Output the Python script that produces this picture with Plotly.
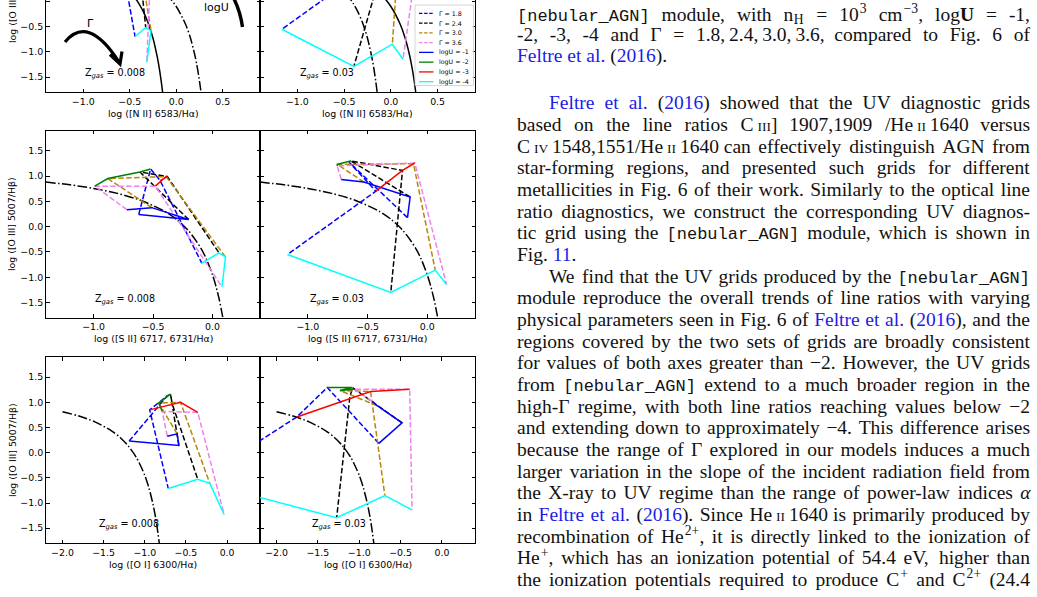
import re
import plotly.graph_objects as go

W, H = 1037, 597

# ------------------------------------------------------------------ DATA
GAMMA_LABELS = ["Γ = 1.8", "Γ = 2.4", "Γ = 3.0", "Γ = 3.6"]
LOGU_LABELS = ["logU = -1", "logU = -2", "logU = -3", "logU = -4"]
GAMMA_COLORS = ["#0000ff", "#000000", "#b8860b", "#ee82ee"]
LOGU_COLORS = ["#0000ff", "#008000", "#ff0000", "#00ffff"]

# model grids: rows = Gamma (1.8, 2.4, 3.0, 3.6), columns = logU (-1, -2, -3, -4)
nii_z008_x = [[-0.60, -0.50, -0.55, -0.443], [-0.50, -0.45, -0.38, -0.328],
              [-0.55, -0.60, -0.36, -0.271], [-0.65, -0.70, -0.28, -0.317]]
nii_z008_y = [[1.2, 1.5, 0.4, -0.70], [1.1, 1.4, 0.4, -0.525],
              [1.0, 1.3, 0.4, -0.59], [1.0, 1.2, 0.4, -1.207]]
nii_z03_x = [[-0.30, -0.40, -0.44, -1.167], [0.0, -0.30, -0.133, -0.396],
             [0.0, -0.40, 0.062, 0.016], [-0.10, -0.45, 0.25, 0.13]]
nii_z03_y = [[1.2, 1.5, 0.4, -0.557], [1.0, 1.4, 0.4, -1.29],
             [1.1, 1.3, 0.4, -0.852], [1.2, 1.2, 0.4, -1.148]]
sii_z008_x = [[-0.62, -0.52, -0.44, -0.09], [-0.20, -0.61, -0.38, 0.056],
              [-0.51, -0.88, -0.39, 0.11], [-0.72, -0.99, -0.48, 0.08]]
sii_z008_y = [[0.24, 1.14, 0.91, -0.72], [0.14, 1.08, 0.99, -0.52],
              [0.375, 0.95, 0.99, -0.60], [0.335, 0.80, 0.80, -1.19]]
sii_z03_x = [[-0.165, -0.655, -0.43, -1.17], [-0.143, -0.64, -0.207, -0.305],
             [-0.53, -0.753, -0.115, 0.067], [-0.72, -0.753, -0.104, 0.162]]
sii_z03_y = [[0.178, 1.276, 0.70, -0.55], [0.586, 1.30, 1.11, -1.30],
             [0.88, 1.23, 1.243, -0.86], [0.93, 1.20, 1.257, -1.145]]
oi_z008_x = [[-1.19, -0.727, -0.94, -0.715], [-0.586, -0.687, -0.667, -0.356],
             [-0.606, -0.83, -0.566, -0.21], [-0.727, -0.788, -0.356, -0.036]]
oi_z008_y = [[0.23, 1.13, 0.85, -0.71], [0.144, 1.16, 0.97, -0.53],
             [0.374, 0.985, 1.0, -0.61], [0.328, 0.82, 0.80, -1.228]]
oi_z03_x = [[-0.763, -1.386, -1.755, -2.96], [-0.482, -1.084, -1.116, -1.273],
            [-0.783, -1.233, -0.863, -0.69], [-0.843, -1.064, -0.39, -0.361]]
oi_z03_y = [[0.184, 1.294, 0.709, -0.56], [0.591, 1.294, 1.07, -1.293],
            [0.932, 1.234, 1.215, -0.854], [1.018, 1.261, 1.261, -1.136]]

# demarcation curves
ka03_nii_x = [-1.4, -1.2, -1.0, -0.8, -0.6, -0.5, -0.45, -0.4, -0.35, -0.3, -0.25, -0.2, -0.18, -0.16, -0.145]
ka03_nii_y = [0.879, 0.812, 0.719, 0.582, 0.362, 0.191, 0.08, -0.056, -0.225, -0.443, -0.733, -1.14, -1.352, -1.605, -1.83]
ke01_nii_x = [-1.4, -1.0, -0.6, -0.4, -0.2, -0.1, 0.0, 0.1, 0.15, 0.2, 0.22, 0.24, 0.26, 0.27]
ke01_nii_y = [0.864, 0.775, 0.620, 0.489, 0.280, 0.120, -0.108, -0.459, -0.716, -1.069, -1.25, -1.462, -1.715, -1.86]
ke01_sii_x = [-1.4, -1.2, -1.0, -0.8, -0.6, -0.4, -0.3, -0.2, -0.1, -0.05, 0.0, 0.03, 0.06, 0.09]
ke01_sii_y = [0.881, 0.826, 0.755, 0.657, 0.517, 0.300, 0.139, -0.085, -0.414, -0.646, -0.95, -1.183, -1.469, -1.83]
ke01_oi_x = [-2.0, -1.8, -1.6, -1.4, -1.3, -1.2, -1.1, -1.0, -0.95, -0.9, -0.87, -0.85, -0.82]
ke01_oi_y = [0.812, 0.727, 0.607, 0.429, 0.302, 0.133, -0.101, -0.450, -0.698, -1.025, -1.277, -1.478, -1.844]

X_TITLES = ["log ([N II] 6583/Hα)", "log ([S II] 6717, 6731/Hα)", "log ([O I] 6300/Hα)"]
Y_TITLE = "log ([O III] 5007/Hβ)"
Z_LABELS = ["0.008", "0.03"]

# ------------------------------------------------------------------ LAYOUT
def fx(px):
    return px / W


def fy(py):
    return 1 - py / H


COL_PX = [(46, 260), (260, 475)]
ROW_PX = [(0, 92.3), (130.5, 317.7), (357, 543.3)]
ROW_YRANGE = [[-1.8, 0.02], [-1.8, 1.9], [-1.8, 1.9]]
ROW_XRANGE = [[-1.4, 0.9], [-1.4, 0.4], [-2.2, 0.4]]

PANELS = [
    (0, 0, nii_z008_x, nii_z008_y, [(ka03_nii_x, ka03_nii_y, "solid"), (ke01_nii_x, ke01_nii_y, "dashdot")]),
    (0, 1, nii_z03_x, nii_z03_y, [(ka03_nii_x, ka03_nii_y, "dashdot"), (ke01_nii_x, ke01_nii_y, "solid")]),
    (1, 0, sii_z008_x, sii_z008_y, [(ke01_sii_x, ke01_sii_y, "dashdot")]),
    (1, 1, sii_z03_x, sii_z03_y, [(ke01_sii_x, ke01_sii_y, "dashdot")]),
    (2, 0, oi_z008_x, oi_z008_y, [(ke01_oi_x, ke01_oi_y, "dashdot")]),
    (2, 1, oi_z03_x, oi_z03_y, [(ke01_oi_x, ke01_oi_y, "dashdot")]),
]

DASH = "5.5px,2.4px"
DASHDOT = "9.6px,2.4px,1.5px,2.4px"
LW = 1.5
AX_FONT = dict(family="DejaVu Sans", size=9.4, color="#000000")

fig = go.Figure()
layout = dict(width=W, height=H, margin=dict(l=0, r=0, t=0, b=0), autosize=False,
              paper_bgcolor="white", plot_bgcolor="rgba(0,0,0,0)", showlegend=False)
annotations = []
shapes = []

for i, (r, c, gx, gy, curves) in enumerate(PANELS, start=1):
    xa, ya = "x%d" % i, "y%d" % i
    for cx, cy, style in curves:
        fig.add_trace(go.Scatter(x=cx, y=cy, mode="lines", xaxis=xa, yaxis=ya,
                                 line=dict(color="black", width=LW, shape="spline", smoothing=0.8,
                                           dash=DASHDOT if style == "dashdot" else "solid"),
                                 hoverinfo="skip"))
    for g in range(4):
        fig.add_trace(go.Scatter(x=gx[g], y=gy[g], mode="lines", xaxis=xa, yaxis=ya,
                                 line=dict(color=GAMMA_COLORS[g], width=LW, dash=DASH),
                                 name=GAMMA_LABELS[g], hoverinfo="skip"))
    for u in range(4):
        fig.add_trace(go.Scatter(x=[gx[g][u] for g in range(4)], y=[gy[g][u] for g in range(4)],
                                 mode="lines", xaxis=xa, yaxis=ya,
                                 line=dict(color=LOGU_COLORS[u], width=LW),
                                 name=LOGU_LABELS[u], hoverinfo="skip"))
    x0, x1 = COL_PX[c]
    y0, y1 = ROW_PX[r]
    key = "" if i == 1 else str(i)
    layout["xaxis" + key] = dict(
        domain=[fx(x0), fx(x1)], range=ROW_XRANGE[r], anchor=ya, showline=True,
        linecolor="black", linewidth=1, mirror=("ticks" if r > 0 else False),
        ticks="inside", ticklen=3.5, tickwidth=1, tickcolor="black", dtick=0.5, tick0=0,
        tickformat=".1f", tickfont=AX_FONT, showgrid=False, zeroline=False, fixedrange=True)
    layout["yaxis" + key] = dict(
        domain=[fy(y1), fy(y0)], range=ROW_YRANGE[r], anchor=xa, showline=True,
        linecolor="black", linewidth=1, mirror="ticks", ticks="inside", ticklen=3.5,
        tickwidth=1, tickcolor="black", dtick=0.5, tick0=0, tickformat=".1f",
        tickfont=AX_FONT, showticklabels=(c == 0), showgrid=False, zeroline=False,
        fixedrange=True)
    annotations.append(dict(text=X_TITLES[r], xref="paper", yref="paper",
                            x=fx((x0 + x1) / 2), y=fy(y1 + 21), showarrow=False,
                            xanchor="center", yanchor="middle", font=AX_FONT))
    zx = [[83, 298], [93, 308], [97, 310]][r][c]
    zy = [73, 299, 524][r]
    annotations.append(dict(text="Z<sub><i>gas</i></sub> = " + Z_LABELS[c], xref="paper",
                            yref="paper", x=fx(zx), y=fy(zy), showarrow=False,
                            xanchor="left", yanchor="middle",
                            font=dict(family="DejaVu Sans", size=9.6, color="black")))

for yc in [-4, 224, 450]:
    annotations.append(dict(text=Y_TITLE, xref="paper", yref="paper", x=fx(12), y=fy(yc),
                            textangle=-90, showarrow=False, xanchor="center",
                            yanchor="middle", font=AX_FONT))

# Gamma / logU direction hints (top-left panel)
annotations.append(dict(text="Γ", xref="paper", yref="paper", x=fx(90), y=fy(23),
                        showarrow=False, xanchor="center", yanchor="middle",
                        font=dict(family="DejaVu Sans", size=11, color="black")))
annotations.append(dict(text="logU", xref="paper", yref="paper", x=fx(216.5), y=fy(7.5),
                        showarrow=False, xanchor="center", yanchor="middle",
                        font=dict(family="DejaVu Sans", size=11, color="black")))
shapes.append(dict(type="path", xref="paper", yref="paper",
                   path="M %f,%f Q %f,%f %f,%f" % (fx(65), fy(42), fx(88), fy(14), fx(119), fy(62)),
                   line=dict(color="black", width=3.2)))
shapes.append(dict(type="path", xref="paper", yref="paper",
                   path="M %f,%f L %f,%f L %f,%f" % (fx(110), fy(54.5), fx(120), fy(64), fx(122), fy(51.5)),
                   line=dict(color="black", width=3.2)))
shapes.append(dict(type="path", xref="paper", yref="paper",
                   path="M %f,%f Q %f,%f %f,%f" % (fx(233), fy(-3), fx(240), fy(10), fx(242.5), fy(27)),
                   line=dict(color="black", width=3.4)))

# legend (top-right panel)
shapes.append(dict(type="rect", xref="paper", yref="paper", x0=fx(415), x1=fx(473.5),
                   y0=fy(85.5), y1=fy(5), line=dict(color="#cccccc", width=0.8),
                   fillcolor="rgba(255,255,255,0.8)"))
leg_labels = GAMMA_LABELS + LOGU_LABELS
leg_colors = GAMMA_COLORS + LOGU_COLORS
for k in range(8):
    py = 13.3 + 9.77 * k
    shapes.append(dict(type="line", xref="paper", yref="paper", x0=fx(419), x1=fx(433.5),
                       y0=fy(py), y1=fy(py),
                       line=dict(color=leg_colors[k], width=1.3, dash=("3.5px,1.6px" if k < 4 else "solid"))))
    annotations.append(dict(text=leg_labels[k], xref="paper", yref="paper", x=fx(437), y=fy(py),
                            showarrow=False, xanchor="left", yanchor="middle",
                            font=dict(family="DejaVu Sans", size=6.3, color="black")))

# ------------------------------------------------------------------ PAGE TEXT
FS = 19.5
MONO_FS = 17.0
SC_FS = 13.5
SUP_FS = 13.6
TEXT_LEFT, TEXT_RIGHT, INDENT = 517, 1030, 32
BLUE = "#1c1ce8"

TW = dict(zip("abcdefghijklmnopqrstuvwxyz",
              [444, 500, 444, 500, 444, 333, 500, 500, 278, 278, 500, 278, 778, 500, 500, 500,
               500, 333, 389, 278, 500, 500, 722, 500, 500, 444]))
TW.update(zip("ABCDEFGHIJKLMNOPQRSTUVWXYZ",
              [722, 667, 667, 722, 611, 556, 722, 722, 333, 389, 722, 611, 889, 722, 722, 556,
               722, 667, 556, 611, 722, 722, 944, 722, 722, 611]))
TW.update({ch: 500 for ch in "0123456789"})
TW.update({" ": 250, ",": 250, ".": 250, "(": 333, ")": 333, "-": 333, "/": 278, "[": 333,
           "]": 333, "=": 564, "+": 564, "−": 564, "Γ": 578, "α": 500, "\u2009": 167})

TEXT_LINES = [
    (16.0, False, True, "{m:[nebular_AGN]} module, with n{_:H} = 10{^:3} cm{^:−3}, log{B:U} = -1,"),
    (36.5, False, True, "-2, -3, -4 and Γ = 1.8,~2.4,~3.0,~3.6, compared to Fig. 6 of"),
    (57.5, False, False, "{b:Feltre} {b:et} {b:al.} ({b:2016})."),
    (104.3, True, True, "{b:Feltre} {b:et} {b:al.} ({b:2016}) showed that the UV diagnostic grids"),
]
BODY = [
    (False, True, "based on the line ratios C~{s:III}] 1907,1909 /He~{s:II}~1640 versus"),
    (False, True, "C~{s:IV}~1548,1551/He~{s:II}~1640 can effectively distinguish AGN from"),
    (False, True, "star-forming regions, and presented such grids for different"),
    (False, True, "metallicities in Fig. 6 of their work. Similarly to the optical line"),
    (False, True, "ratio diagnostics, we construct the corresponding UV diagnos-"),
    (False, True, "tic grid using the {m:[nebular_AGN]} module, which is shown in"),
    (False, False, "Fig. {b:11}."),
    (True, True, "We find that the UV grids produced by the {m:[nebular_AGN]}"),
    (False, True, "module reproduce the overall trends of line ratios with varying"),
    (False, True, "physical parameters seen in Fig. 6 of {b:Feltre} {b:et} {b:al.} ({b:2016}), and the"),
    (False, True, "regions covered by the two sets of grids are broadly consistent"),
    (False, True, "for values of both axes greater than −2. However, the UV grids"),
    (False, True, "from {m:[nebular_AGN]} extend to a much broader region in the"),
    (False, True, "high-Γ regime, with both line ratios reaching values below −2"),
    (False, True, "and extending down to approximately −4. This difference arises"),
    (False, True, "because the range of Γ explored in our models induces a much"),
    (False, True, "larger variation in the slope of the incident radiation field from"),
    (False, True, "the X-ray to UV regime than the range of power-law indices {i:α}"),
    (False, True, "in {b:Feltre} {b:et} {b:al.} ({b:2016}). Since He~{s:II}~1640 is primarily produced by"),
    (False, True, "recombination of He{^:2+}, it is directly linked to the ionization of"),
    (False, True, "He{^:+}, which has an ionization potential of 54.4 eV, higher than"),
    (False, True, "the ionization potentials required to produce C{^:+} and C{^:2+} (24.4"),
]
for k, (ind, just, txt) in enumerate(BODY):
    TEXT_LINES.append((126.0 + 21.67 * k, ind, just, txt))

SEG_RE = re.compile(r"\{([mbsBi^_]):([^}]*)\}|([^{]+)")


def word_pieces(word):
    """Split a word into pieces: (html, width, kind) where kind is 'n', '^' or '_'."""
    pieces = []
    cur_html, cur_w = "", 0.0
    for m in SEG_RE.finditer(word):
        st, inner, plain = m.group(1), m.group(2), m.group(3)
        t = (inner if st else plain).replace("~", "\u2009")
        base = sum(TW.get(ch, 500) for ch in t)
        if st in ("^", "_"):
            if cur_html:
                pieces.append((cur_html, cur_w, "n"))
                cur_html, cur_w = "", 0.0
            pieces.append((t, base * SUP_FS / 1000, st))
            continue
        if st is None:
            cur_html += t
            cur_w += base * FS / 1000
        elif st == "b":
            cur_html += '<span style="color:%s">%s</span>' % (BLUE, t)
            cur_w += base * FS / 1000
        elif st == "m":
            cur_html += '<span style="font-family:Liberation Mono;font-size:%spx">%s</span>' % (MONO_FS, t)
            cur_w += len(t) * 0.6 * MONO_FS
        elif st == "s":
            cur_html += '<span style="font-size:%spx">%s</span>' % (SC_FS, t)
            cur_w += base * SC_FS / 1000
        elif st == "B":
            cur_html += "<b>%s</b>" % t
            cur_w += base * FS / 1000
        elif st == "i":
            cur_html += "<i>%s</i>" % t
            cur_w += base * FS / 1000
    if cur_html:
        pieces.append((cur_html, cur_w, "n"))
    return pieces


wx, wy, wt, ws = [], [], [], []
for cy, ind, just, txt in TEXT_LINES:
    words = [word_pieces(w) for w in txt.split(" ")]
    widths = [sum(p[1] for p in wp) + 1.2 * sum(1 for p in wp if p[2] != "n") for wp in words]
    start = TEXT_LEFT + (INDENT if ind else 0)
    total = sum(widths)
    if just and len(words) > 1:
        gap = max((TEXT_RIGHT - start - total) / (len(words) - 1), 2.5)
    else:
        gap = 0.25 * FS
    x = start
    base_line = cy + 0.25 * FS
    for wp, wdt in zip(words, widths):
        xx = x
        for html, pw, kind in wp:
            if kind == "n":
                wx.append(xx)
                wy.append(cy)
                ws.append(FS)
            elif kind == "^":
                wx.append(xx + 1.0)
                wy.append(base_line - 7.5 - 0.25 * SUP_FS)
                ws.append(SUP_FS)
            else:
                wx.append(xx + 0.6)
                wy.append(base_line + 3.5 - 0.25 * SUP_FS)
                ws.append(SUP_FS)
            wt.append(html)
            xx += pw + (1.2 if kind != "n" else 0)
        x += wdt + gap

fig.add_trace(go.Scatter(x=wx, y=wy, text=wt, mode="text", textposition="middle right",
                         textfont=dict(family="Liberation Serif", size=ws, color="#111111"),
                         xaxis="x7", yaxis="y7", hoverinfo="skip", cliponaxis=False))
layout["xaxis7"] = dict(domain=[0, 1], range=[0, W], anchor="y7", visible=False, fixedrange=True)
layout["yaxis7"] = dict(domain=[0, 1], range=[H, 0], anchor="x7", visible=False, fixedrange=True)

layout["annotations"] = annotations
layout["shapes"] = shapes
fig.update_layout(**layout)
fig.write_html("out.html")
